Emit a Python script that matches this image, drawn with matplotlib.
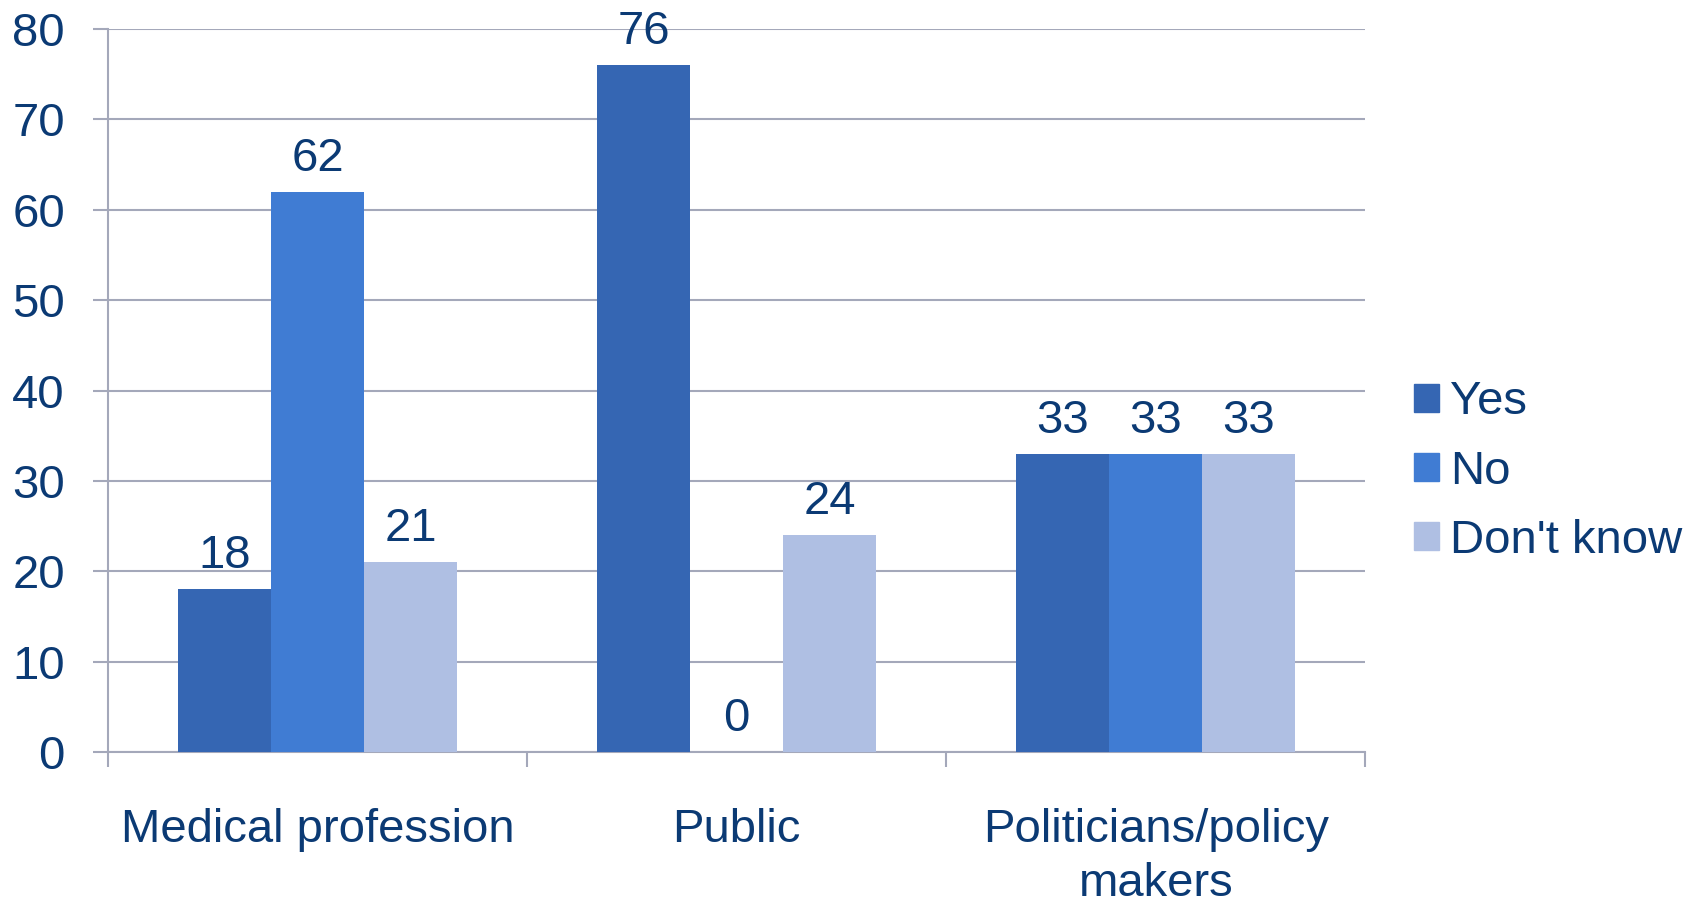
import numpy as np
import matplotlib
matplotlib.use("Agg")
import matplotlib.pyplot as plt
from matplotlib.patches import Patch

plt.rcParams['font.family'] = ['Liberation Sans', 'DejaVu Sans']

categories = ["Medical profession", "Public", "Politicians/policy\nmakers"]
series = ["Yes", "No", "Don't know"]
yes = [18, 76, 33]
no = [62, 0, 33]
dont_know = [21, 24, 33]

colors = ["#3566B3", "#407CD3", "#AFBFE3"]
text_col = "#0B3A74"
grid_col = "#A4A8BA"

fig = plt.figure(figsize=(16.98, 9.05), dpi=100)
ax = fig.add_axes([0.0636, 0.169, 0.7405, 0.799])

x = np.arange(len(categories))
w = 0.222
for i, (vals, name) in enumerate(zip([yes, no, dont_know], series)):
    bars = ax.bar(x + (i - 1) * w, vals, w, color=colors[i], label=name, zorder=3)
    ax.bar_label(bars, labels=[str(v) for v in vals], padding=8,
                 fontsize=34, color=text_col)

ax.set_xlim(-0.5, 2.5)
ax.set_ylim(0, 80)
ax.set_yticks(range(0, 81, 10))
ax.yaxis.grid(True, color=grid_col, linewidth=1.5, zorder=0)
ax.tick_params(axis='y', length=11, width=1.5, color=grid_col, pad=20,
               labelsize=34, labelcolor=text_col)

# category borders as major ticks, names on minor ticks
ax.set_xticks([-0.5, 0.5, 1.5, 2.5])
ax.set_xticklabels([])
ax.set_xticks(x, minor=True)
ax.set_xticklabels(categories, minor=True, fontsize=34, color=text_col,
                   linespacing=1.32)
ax.tick_params(axis='x', which='major', length=11, width=1.5, color=grid_col)
ax.tick_params(axis='x', which='minor', length=0, pad=40)

for s in ['top', 'right']:
    ax.spines[s].set_visible(False)
for s in ['left', 'bottom']:
    ax.spines[s].set_color(grid_col)
    ax.spines[s].set_linewidth(1.5)

handles = [Patch(color=c) for c in colors]
leg = fig.legend(handles, series, loc='center left', bbox_to_anchor=(0.8325, 0.479),
                 frameon=False, fontsize=34, handlelength=0.53, handleheight=0.53,
                 handletextpad=0.25, labelspacing=0.53, borderpad=0, borderaxespad=0)
for t in leg.get_texts():
    t.set_color(text_col)

fig.savefig("out.png", dpi=100)
